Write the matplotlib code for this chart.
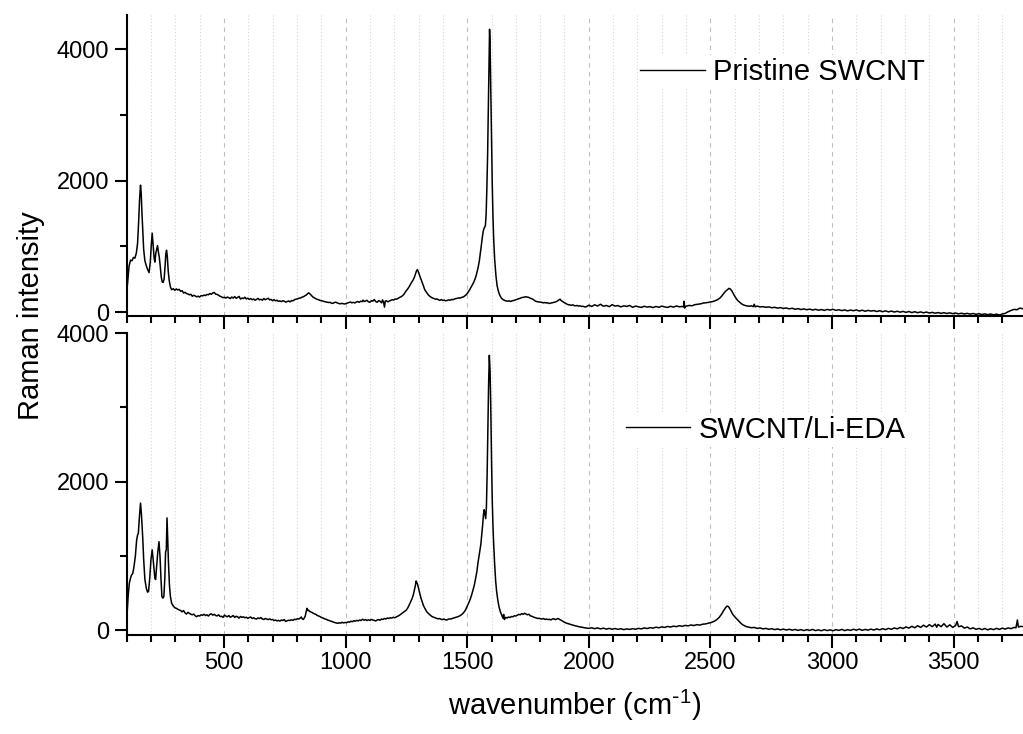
import numpy as np
import matplotlib
matplotlib.use("Agg")
import matplotlib.pyplot as plt
from matplotlib.ticker import MultipleLocator

plt.rcParams["font.family"] = ["Liberation Sans", "DejaVu Sans"]
plt.rcParams["mathtext.default"] = "regular"

# Raman spectra, columns: wavenumber (cm-1), intensity
pristine = np.array([
    (100, 300), (104, 450), (110, 700), (116, 790), (122, 780), (128, 830), (134, 820), (140, 900),
    (145, 1050), (149, 1350), (153, 1700), (157, 1930), (160, 1800), (163, 1500), (166, 1250), (170, 950),
    (175, 780), (181, 700), (187, 640), (192, 600), (197, 750), (201, 1000), (205, 1200), (209, 1000),
    (213, 820), (216, 760), (220, 900), (224, 960), (227, 1010), (231, 900), (234, 840), (238, 700),
    (242, 540), (246, 460), (250, 450), (254, 500), (258, 700), (261, 880), (264, 940), (267, 850),
    (271, 620), (275, 480), (280, 380),
    (285, 340), (292, 355), (298, 330), (304, 352), (310, 335), (316, 345), (322, 315), (328, 325),
    (334, 290), (340, 300), (346, 282), (352, 275), (358, 262), (364, 270), (370, 240), (376, 255),
    (382, 245), (388, 232), (394, 240), (400, 228), (406, 250), (412, 245), (418, 258), (424, 250),
    (430, 268), (436, 262), (442, 282), (448, 270), (454, 290), (460, 298), (466, 272), (472, 268),
    (478, 255), (484, 240), (490, 232), (496, 218), (502, 225), (508, 212), (514, 228), (520, 218),
    (526, 205), (532, 228), (538, 212), (544, 235), (550, 210), (556, 222), (562, 238), (568, 198),
    (574, 212), (580, 205), (586, 225), (592, 200), (598, 210), (604, 192), (610, 205), (616, 188),
    (622, 198), (628, 180), (634, 192), (640, 208), (646, 185), (652, 195), (658, 180), (664, 205),
    (670, 188), (676, 198), (682, 210), (688, 185), (694, 192), (700, 172), (706, 188), (712, 170),
    (718, 180), (724, 162), (730, 170), (736, 158), (742, 172), (748, 165), (754, 150), (760, 160),
    (766, 168), (772, 155), (778, 175), (784, 170), (790, 188), (796, 195), (802, 200), (808, 210),
    (814, 212), (820, 225), (826, 232), (832, 245), (838, 258), (843, 275), (846, 285), (849, 292),
    (852, 280), (856, 268), (860, 250), (865, 232), (870, 220), (876, 205), (882, 195), (888, 188),
    (894, 178), (900, 172), (906, 168), (912, 160), (918, 155), (924, 150), (930, 145), (936, 148),
    (942, 135), (948, 132), (954, 145), (960, 150), (966, 138), (972, 130), (978, 125), (984, 132),
    (990, 128), (996, 122), (1002, 130), (1008, 138), (1014, 145), (1020, 152), (1026, 140), (1032, 148),
    (1038, 138), (1044, 152), (1050, 160), (1056, 148), (1062, 165), (1068, 158), (1072, 182), (1076, 160),
    (1082, 168), (1088, 178), (1094, 155), (1100, 150), (1106, 172), (1112, 165), (1118, 190), (1124, 160),
    (1130, 148), (1136, 175), (1142, 162), (1148, 140), (1152, 185), (1156, 150), (1160, 75), (1163, 165),
    (1168, 172), (1174, 155), (1180, 168), (1186, 178), (1192, 188), (1198, 182), (1204, 200), (1210, 195),
    (1216, 208), (1222, 222), (1228, 232), (1234, 248), (1240, 270),
    (1245, 300), (1251, 330), (1257, 360), (1263, 395), (1268, 430), (1273, 460), (1278, 490), (1283, 530),
    (1287, 575), (1291, 620), (1295, 645), (1299, 615), (1304, 560), (1308, 520), (1312, 480), (1316, 440),
    (1320, 400), (1324, 355), (1327, 330), (1333, 298), (1340, 262), (1346, 240), (1352, 225), (1358, 212),
    (1364, 205), (1370, 195), (1376, 200), (1382, 185), (1388, 178), (1394, 190), (1400, 175), (1406, 182),
    (1412, 170), (1418, 178), (1424, 185), (1430, 180), (1436, 192), (1442, 188), (1448, 198), (1454, 205),
    (1460, 210), (1466, 215), (1472, 212), (1478, 225), (1484, 228), (1490, 245), (1495, 260), (1500, 282),
    (1505, 310), (1510, 338), (1515, 370), (1520, 405), (1525, 440), (1530, 482), (1535, 530), (1540, 600),
    (1545, 680), (1550, 780), (1554, 890), (1558, 1010), (1562, 1130), (1566, 1230), (1569, 1270), (1572, 1290),
    (1575, 1320), (1578, 1500), (1581, 1900), (1584, 2400), (1587, 3100), (1590, 3900), (1592, 4300), (1594, 4100),
    (1597, 3400), (1600, 2600), (1603, 1950), (1606, 1450), (1609, 1100), (1613, 800), (1618, 560), (1623, 400),
    (1628, 320), (1634, 255), (1641, 210), (1648, 188), (1655, 175), (1661, 168), (1667, 165), (1673, 170),
    (1679, 160), (1685, 172), (1691, 175), (1697, 182), (1703, 190), (1709, 200), (1715, 205), (1721, 215),
    (1727, 222), (1733, 225), (1739, 232), (1745, 228), (1751, 225), (1757, 215), (1763, 205), (1769, 198),
    (1775, 180), (1781, 165), (1787, 158), (1793, 155), (1800, 150), (1806, 148), (1812, 140), (1818, 145),
    (1824, 138), (1830, 142), (1836, 130), (1842, 135), (1848, 140), (1854, 145), (1860, 150), (1866, 158),
    (1872, 170), (1878, 188), (1882, 195), (1886, 175), (1892, 160), (1898, 145), (1904, 132), (1910, 120),
    (1916, 112), (1922, 108), (1928, 102), (1934, 110), (1940, 98), (1946, 95), (1952, 100), (1958, 90),
    (1964, 95), (1970, 85), (1976, 88), (1982, 80), (1988, 78), (1994, 90),
    (2000, 105), (2012, 85), (2024, 110), (2036, 92), (2048, 118), (2060, 88), (2072, 100), (2084, 82),
    (2096, 112), (2108, 90), (2120, 98), (2132, 78), (2144, 95), (2156, 85), (2168, 100), (2180, 72),
    (2192, 90), (2204, 80), (2216, 70), (2228, 88), (2240, 75), (2252, 82), (2264, 68), (2276, 85),
    (2288, 72), (2300, 90), (2312, 78), (2324, 70), (2336, 88), (2348, 75), (2360, 92), (2372, 80),
    (2384, 85), (2390, 78), (2392, 165), (2394, 60), (2400, 90), (2412, 100), (2424, 95), (2436, 112),
    (2448, 118), (2460, 125), (2472, 138), (2484, 142), (2496, 150), (2508, 158), (2520, 172), (2530, 190),
    (2538, 210), (2546, 240), (2554, 280), (2562, 315), (2570, 342), (2576, 360), (2582, 350), (2588, 322),
    (2594, 280), (2600, 240), (2606, 205), (2612, 175), (2620, 150), (2628, 125), (2636, 108), (2644, 98),
    (2652, 92), (2660, 88), (2668, 95), (2676, 82), (2680, 118), (2684, 80), (2692, 90), (2704, 78),
    (2716, 82), (2728, 72), (2740, 78), (2752, 65), (2764, 72), (2776, 60), (2788, 68), (2800, 55),
    (2812, 62), (2824, 48), (2836, 58), (2848, 42), (2860, 52), (2872, 38), (2884, 48), (2896, 35),
    (2908, 45), (2920, 30), (2932, 42), (2944, 28), (2956, 38), (2968, 25), (2980, 40), (2992, 30),
    (3004, 42), (3016, 25), (3028, 35), (3040, 22), (3052, 32), (3064, 18), (3076, 30), (3088, 20),
    (3100, 32), (3112, 15), (3124, 28), (3136, 12), (3148, 25), (3160, 15), (3172, 22), (3184, 8),
    (3196, 20), (3208, 5), (3220, 18), (3232, 2), (3244, 15), (3256, 0), (3268, 12), (3280, -2),
    (3292, 10), (3304, -5), (3316, 8), (3328, -8), (3340, 5), (3352, -10), (3364, 2), (3376, -12),
    (3388, 0), (3400, -15), (3412, -5), (3424, -18), (3436, -8), (3448, -20), (3460, -10), (3472, -22),
    (3484, -12), (3496, -25), (3508, -15), (3520, -28), (3532, -18), (3544, -30), (3556, -20), (3568, -32),
    (3580, -22), (3592, -35), (3604, -25), (3616, -38), (3628, -28), (3640, -40), (3652, -30), (3664, -42),
    (3676, -32), (3688, -45), (3700, -30), (3712, -20), (3724, 5), (3736, 25), (3748, 40), (3760, 35),
    (3772, 60), (3785, 50),
])

lieda = np.array([
    (100, 150), (102, 225), (106, 450), (111, 630), (116, 700), (120, 740), (125, 760), (130, 850),
    (136, 1000), (141, 1210), (145, 1280), (148, 1300), (152, 1500), (157, 1710), (161, 1550), (166, 1250),
    (170, 950), (175, 680), (181, 560), (186, 510), (190, 520), (195, 700), (200, 950), (205, 1080),
    (209, 950), (213, 800), (216, 700), (219, 680), (223, 850), (228, 1050), (233, 1190), (237, 1000),
    (241, 700), (245, 450), (249, 430), (253, 450), (257, 700), (260, 1050), (263, 1080), (266, 1510),
    (269, 1200), (272, 900), (276, 600), (280, 450),
    (285, 360), (292, 322), (298, 300), (304, 292), (310, 280), (316, 270), (322, 262), (328, 245),
    (334, 262), (340, 230), (346, 215), (352, 238), (358, 225), (364, 212), (370, 205), (376, 215),
    (382, 190), (388, 180), (394, 195), (400, 188), (406, 205), (412, 198), (418, 212), (424, 195),
    (430, 205), (436, 188), (442, 210), (448, 218), (454, 200), (460, 212), (466, 195), (472, 190),
    (478, 205), (484, 182), (490, 185), (496, 170), (502, 200), (508, 188), (514, 178), (520, 195),
    (526, 172), (532, 182), (538, 195), (544, 170), (550, 185), (556, 178), (562, 160), (568, 182),
    (574, 170), (580, 178), (586, 165), (592, 172), (598, 158), (604, 168), (610, 175), (616, 155),
    (622, 165), (628, 152), (634, 148), (640, 162), (646, 155), (652, 168), (658, 148), (664, 142),
    (670, 155), (676, 148), (682, 140), (688, 150), (694, 138), (700, 142), (706, 128), (712, 135),
    (718, 122), (724, 130), (730, 120), (736, 135), (742, 128), (748, 140), (754, 115), (760, 125),
    (766, 132), (772, 128), (778, 138), (784, 130), (790, 145), (796, 140), (802, 152), (808, 148),
    (814, 162), (818, 175), (822, 150), (826, 142), (830, 160), (834, 185), (838, 245), (841, 292),
    (844, 262), (848, 268), (852, 250), (856, 245), (860, 240), (866, 228), (872, 218), (878, 210),
    (884, 195), (890, 188), (896, 178), (902, 168), (908, 160), (914, 150), (920, 145), (926, 135),
    (932, 128), (938, 122), (944, 115), (950, 108), (956, 100), (962, 95), (968, 90), (974, 98),
    (980, 92), (986, 105), (992, 95), (998, 102), (1004, 98), (1010, 110), (1016, 105), (1022, 118),
    (1028, 112), (1034, 125), (1040, 118), (1046, 130), (1052, 122), (1058, 135), (1064, 128), (1070, 145),
    (1076, 132), (1082, 140), (1088, 128), (1094, 138), (1100, 130), (1106, 142), (1112, 135), (1118, 128),
    (1124, 122), (1130, 135), (1136, 140), (1142, 132), (1148, 148), (1154, 142), (1160, 155), (1166, 148),
    (1172, 162), (1178, 155), (1184, 165), (1190, 160), (1196, 172), (1202, 165), (1208, 175), (1214, 185),
    (1220, 195), (1226, 210), (1232, 225), (1238, 240), (1244, 255),
    (1250, 269), (1256, 300), (1262, 340), (1268, 385), (1274, 427), (1279, 480), (1283, 540), (1287, 600),
    (1290, 660), (1293, 640), (1296, 615), (1300, 560), (1305, 494), (1310, 430), (1315, 380), (1320, 330),
    (1326, 292), (1332, 255), (1338, 230), (1344, 212), (1350, 195), (1356, 180), (1362, 172), (1368, 165),
    (1374, 158), (1380, 150), (1386, 155), (1392, 145), (1398, 140), (1404, 148), (1410, 138), (1416, 135),
    (1422, 145), (1428, 150), (1434, 148), (1440, 158), (1446, 162), (1452, 170), (1458, 175), (1464, 182),
    (1470, 192), (1476, 205), (1482, 222), (1488, 245), (1494, 275), (1499, 314), (1505, 355), (1512, 410),
    (1518, 470), (1524, 539), (1530, 615), (1535, 700), (1540, 790), (1544, 898), (1548, 980), (1552, 1060),
    (1556, 1150), (1560, 1290), (1564, 1430), (1567, 1560), (1570, 1620), (1573, 1560), (1576, 1500), (1579, 1650),
    (1582, 2100), (1585, 2700), (1588, 3300), (1591, 3700), (1594, 3500), (1597, 3000), (1600, 2300), (1603, 1750),
    (1606, 1400), (1609, 1150), (1613, 880), (1617, 660), (1621, 520), (1626, 400), (1631, 310), (1637, 240),
    (1643, 190), (1647, 160), (1650, 210), (1653, 140), (1658, 170), (1664, 162), (1670, 175), (1676, 168),
    (1682, 182), (1688, 178), (1694, 192), (1700, 188), (1706, 200), (1712, 210), (1718, 205), (1724, 220),
    (1730, 212), (1736, 225), (1742, 215), (1748, 205), (1754, 212), (1760, 190), (1766, 185), (1772, 175),
    (1778, 168), (1784, 160), (1790, 155), (1796, 158), (1802, 150), (1808, 148), (1814, 155), (1820, 142),
    (1826, 148), (1832, 140), (1838, 145), (1844, 135), (1850, 148), (1856, 152), (1862, 140), (1868, 148),
    (1874, 155), (1880, 142), (1886, 132), (1892, 120), (1898, 108), (1904, 98), (1910, 90), (1916, 85),
    (1922, 78), (1928, 72), (1934, 66), (1940, 60), (1946, 55), (1952, 52), (1958, 45), (1964, 42),
    (1970, 38), (1976, 35), (1982, 30), (1988, 28), (1994, 24),
    (2000, 22), (2012, 30), (2024, 18), (2036, 28), (2048, 15), (2060, 25), (2072, 12), (2084, 22),
    (2096, 10), (2108, 20), (2120, 8), (2132, 18), (2144, 5), (2156, 15), (2168, 8), (2180, 18),
    (2192, 10), (2204, 22), (2216, 15), (2228, 28), (2240, 20), (2252, 32), (2264, 25), (2276, 38),
    (2288, 30), (2300, 42), (2312, 35), (2324, 48), (2336, 40), (2348, 52), (2360, 45), (2372, 58),
    (2384, 50), (2396, 62), (2408, 55), (2420, 68), (2432, 60), (2444, 72), (2456, 66), (2468, 78),
    (2480, 82), (2492, 92), (2504, 102), (2516, 118), (2526, 140), (2536, 170), (2546, 215), (2554, 260),
    (2562, 300), (2568, 322), (2574, 315), (2580, 285), (2586, 245), (2592, 210), (2600, 178), (2608, 150),
    (2616, 120), (2624, 95), (2632, 72), (2640, 58), (2648, 45), (2656, 40), (2668, 30), (2680, 35),
    (2692, 22), (2704, 28), (2716, 15), (2728, 22), (2740, 10), (2752, 18), (2764, 5), (2776, 15),
    (2788, 2), (2800, 12), (2812, 0), (2824, 10), (2836, -2), (2848, 8), (2860, -5), (2872, 5),
    (2884, -8), (2896, 5), (2908, -5), (2920, 8), (2932, -8), (2944, 2), (2956, -10), (2968, 5),
    (2980, -8), (2992, 2), (3004, -10), (3016, 5), (3028, -5), (3040, 8), (3052, -8), (3064, 5),
    (3076, -5), (3088, 10), (3100, -2), (3112, 12), (3124, -5), (3136, 8), (3148, -2), (3160, 12),
    (3172, 0), (3184, 15), (3196, 2), (3208, 18), (3220, 5), (3232, 22), (3244, 10), (3256, 28),
    (3268, 15), (3280, 35), (3292, 20), (3304, 42), (3316, 25), (3328, 50), (3340, 30), (3352, 58),
    (3364, 35), (3376, 65), (3388, 40), (3400, 72), (3412, 45), (3424, 80), (3430, 38), (3436, 75),
    (3448, 45), (3460, 85), (3472, 40), (3484, 70), (3496, 35), (3508, 60), (3514, 115), (3520, 45),
    (3532, 55), (3544, 25), (3556, 40), (3568, 15), (3580, 30), (3592, 8), (3604, 22), (3616, 5),
    (3628, 20), (3640, 2), (3652, 18), (3664, 5), (3676, 22), (3688, 8), (3700, 25), (3712, 12),
    (3724, 28), (3736, 18), (3748, 35), (3756, 30), (3762, 135), (3766, 40), (3776, 50), (3785, 45),
])

labels = ["Pristine SWCNT", "SWCNT/Li-EDA"]

fig = plt.figure(figsize=(10.23, 7.34), dpi=100)
ax1 = fig.add_axes([0.1238, 0.5695, 0.8762, 0.410])
ax2 = fig.add_axes([0.1238, 0.1349, 0.8762, 0.4114], sharex=ax1)

for ax, data, lab, ylim in [(ax1, pristine, labels[0], (-60, 4517)),
                            (ax2, lieda, labels[1], (-67, 4000))]:
    ax.plot(data[:, 0], data[:, 1], color="black", lw=1.1, label=lab)
    ax.set_ylim(*ylim)
    ax.set_xlim(100, 3785)
    ax.spines["top"].set_visible(False)
    ax.spines["right"].set_visible(False)
    for s in ["left", "bottom"]:
        ax.spines[s].set_linewidth(1.5)
    ax.xaxis.set_major_locator(MultipleLocator(500))
    ax.xaxis.set_minor_locator(MultipleLocator(100))
    ax.yaxis.set_major_locator(MultipleLocator(2000))
    ax.yaxis.set_minor_locator(MultipleLocator(1000))
    ax.tick_params(which="major", direction="out", length=9, width=1.5, labelsize=17)
    ax.tick_params(which="minor", direction="out", length=5, width=1.5)
    ax.grid(True, which="major", axis="x", color="#bdbdbd", ls=(0, (4, 4)), lw=0.8)
    ax.grid(True, which="minor", axis="x", color="#d6d6d6", ls=(0, (1, 2)), lw=0.8)
    ax.set_axisbelow(True)

ax1.tick_params(axis="x", labelbottom=False)

leg1 = ax1.legend(loc="center left", bbox_to_anchor=(0.570, 0.811), fontsize=21,
                  handlelength=2.2, handletextpad=0.3, borderpad=0.1, borderaxespad=0,
                  frameon=True, fancybox=False, framealpha=1, edgecolor="none")
leg2 = ax2.legend(loc="center left", bbox_to_anchor=(0.554, 0.68), fontsize=21,
                  handlelength=2.2, handletextpad=0.3, borderpad=0.1, borderaxespad=0,
                  frameon=True, fancybox=False, framealpha=1, edgecolor="none")
for leg in (leg1, leg2):
    for h in leg.get_lines():
        h.set_linewidth(1.0)

ax2.set_xlabel(r"wavenumber (cm$^{\text{-}1}$)", fontsize=21, labelpad=10)
fig.text(0.03, 0.57, "Raman intensity", rotation=90, fontsize=21, ha="center", va="center")

fig.savefig("out.png", dpi=100)
